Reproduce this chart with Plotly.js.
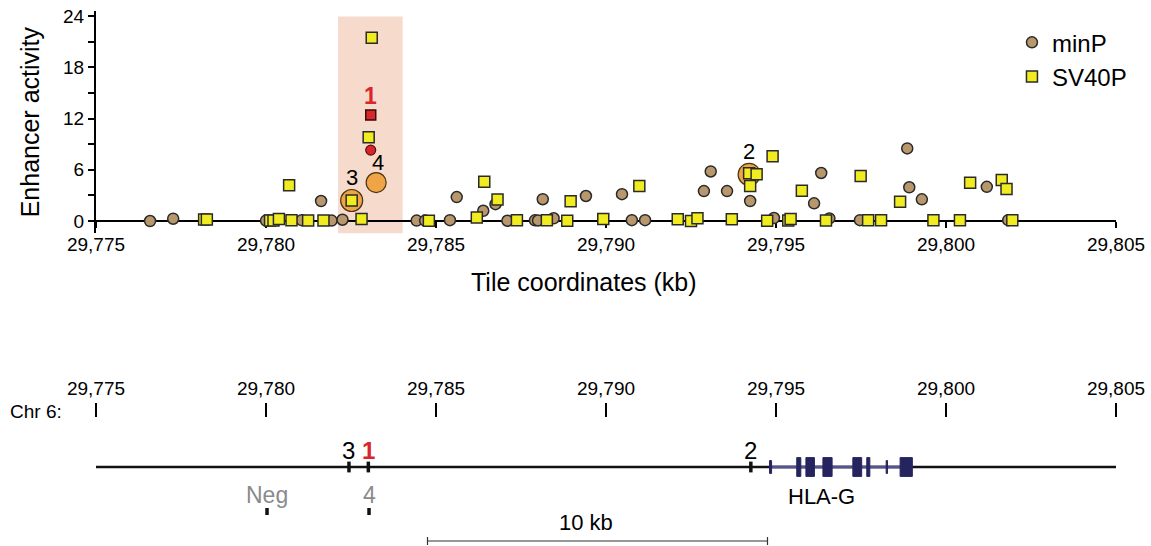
<!DOCTYPE html>
<html><head><meta charset="utf-8">
<script src="https://cdn.plot.ly/plotly-3.0.1.min.js"></script>
<style>html,body{margin:0;padding:0;background:#fff}#chart{width:1151px;height:546px}</style>
</head><body><div id="chart"></div>
<script>
// ---------- data ----------
const minPKb = [29776.59, 29777.27, 29780.0, 29781.05, 29781.93, 29782.25, 29781.62, 29784.43, 29784.68, 29785.41, 29785.61, 29786.39, 29786.75, 29787.10, 29787.91, 29788.0, 29788.46, 29788.14, 29789.41, 29790.47, 29790.76, 29791.15, 29792.88, 29793.08, 29793.56, 29794.24, 29794.94, 29796.12, 29796.33, 29796.57, 29797.47, 29798.86, 29798.92, 29799.29, 29801.2, 29801.83];
const minPAct = [0, 0.27, 0.05, 0.1, 0.05, 0.15, 2.34, 0.05, 0.05, 0.1, 2.8, 1.2, 1.97, 0.03, 0.08, 0.06, 0.32, 2.55, 2.93, 3.14, 0.1, 0.1, 3.5, 5.8, 3.5, 2.34, 0.35, 2.07, 5.62, 0.3, 0.1, 8.5, 3.95, 2.54, 4.0, 0.1];
const sv40Kb = [29778.18, 29778.26, 29780.12, 29780.22, 29780.38, 29780.75, 29781.24, 29781.69, 29782.81, 29780.68, 29782.52, 29783.11, 29783.02, 29784.79, 29786.2, 29786.42, 29786.81, 29787.38, 29788.26, 29788.86, 29788.96, 29789.92, 29790.98, 29792.11, 29792.5, 29792.69, 29793.70, 29794.21, 29794.43, 29794.24, 29794.90, 29794.74, 29795.36, 29795.43, 29795.76, 29796.47, 29797.49, 29797.71, 29798.09, 29798.65, 29799.63, 29800.41, 29800.71, 29801.64, 29801.78, 29801.95];
const sv40Act = [0.18, 0.18, 0.05, 0.05, 0.23, 0.1, 0.05, 0.05, 0.23, 4.2, 2.4, 21.46, 9.8, 0.03, 0.4, 4.6, 2.52, 0.1, 0.1, 0.03, 2.32, 0.23, 4.1, 0.2, 0, 0.32, 0.2, 5.58, 5.47, 4.1, 7.58, 0.03, 0.06, 0.23, 3.55, 0.06, 5.27, 0.1, 0.1, 2.26, 0.1, 0.1, 4.48, 4.8, 3.75, 0.1];

// enhancer 1 (red)
const hit1MinPKb = [29783.08];
const hit1MinPAct = [8.3];
const hit1SV40Kb = [29783.08];
const hit1SV40Act = [12.4];
// highlighted enhancers (orange)
const hlIds = ['3', '4', '2'];
const hlKb = [29782.52, 29783.24, 29794.21];
const hlAct = [2.4, 4.5, 5.45];

// highlighted region (kb)
const regionKb = [29782.12, 29784.02];

// axis ticks
const xTickVals = [29775, 29780, 29785, 29790, 29795, 29800, 29805];
const yTickVals = [0, 3, 6, 9, 12, 15, 18, 21, 24];
const yTickText = ['0', '', '6', '', '12', '', '18', '', '24'];

// genome track
const trackIds = ['3', '1', '2'];
const trackKb = [29782.44, 29783.01, 29794.26];
const lowerIds = ['Neg', '4'];
const lowerKb = [29780.03, 29783.03];
const geneName = 'HLA-G';
const geneSpan = [29794.84, 29799.01];
const exonStart = [29794.81, 29795.61, 29795.88, 29796.38, 29797.26, 29797.67, 29798.24, 29798.65];
const exonEnd   = [29794.87, 29795.73, 29796.13, 29796.65, 29797.52, 29797.76, 29798.28, 29799.01];
const exonKind  = ['utr', 'cds', 'cds', 'cds', 'cds', 'cds', 'utr', 'cds'];
const scaleBarKb = [29784.75, 29794.75];
const scaleBarLabel = '10 kb';

// ---------- drawing ----------
const FONT = 'Liberation Sans, Arial, Helvetica, sans-serif';
const TAN = '#B9976C', YEL = '#F1EC1F', EDGE = '#2a2a2a', ORANGE = '#EFA446', RED = '#D8262B', NAVY = '#25245E';
const H = 546, W = 1151, ML = 96, MR = 35;
const PW = W - ML - MR;
const yZeroPx = 221;

const traces = [
  {x: hlKb, y: hlAct, type: 'scatter', mode: 'markers', showlegend: false, hoverinfo: 'skip',
   marker: {symbol: 'circle', size: [22, 20, 22], color: ORANGE, opacity: 1, line: {color: '#4a3515', width: 1.2}}},
  {x: minPKb, y: minPAct, type: 'scatter', mode: 'markers', name: 'minP',
   marker: {symbol: 'circle', size: 11, color: TAN, opacity: 1, line: {color: EDGE, width: 1.5}}},
  {x: sv40Kb, y: sv40Act, type: 'scatter', mode: 'markers', name: 'SV40P',
   marker: {symbol: 'square', size: 11, color: YEL, opacity: 1, line: {color: EDGE, width: 1.5}}},
  {x: hit1MinPKb, y: hit1MinPAct, type: 'scatter', mode: 'markers', showlegend: false,
   marker: {symbol: 'circle', size: 10, color: RED, opacity: 1, line: {color: '#5a1010', width: 1.2}}},
  {x: hit1SV40Kb, y: hit1SV40Act, type: 'scatter', mode: 'markers', showlegend: false,
   marker: {symbol: 'square', size: 10, color: RED, opacity: 1, line: {color: '#3a0a0a', width: 1.5}}}
];

const shapes = [
  {type: 'rect', xref: 'x', yref: 'y', x0: regionKb[0], x1: regionKb[1], y0: -1.45, y1: 23.95,
   fillcolor: '#F6DACB', line: {width: 0}, layer: 'below'},
  {type: 'line', xref: 'x2', yref: 'y2', x0: xTickVals[0], x1: xTickVals[xTickVals.length - 1], y0: 0, y1: 0,
   line: {color: '#111', width: 2.5}}
];
trackKb.forEach(k => shapes.push({type: 'line', xref: 'x2', yref: 'y2', x0: k, x1: k, y0: -0.27, y1: 0.27, line: {color: '#111', width: 3.5}}));
lowerKb.forEach(k => shapes.push({type: 'line', xref: 'x2', yref: 'y2', x0: k, x1: k, y0: -2.05, y1: -2.4, line: {color: '#111', width: 3.5}}));
shapes.push({type: 'line', xref: 'x2', yref: 'y2', x0: geneSpan[0], x1: geneSpan[1], y0: 0, y1: 0, line: {color: '#55548c', width: 3}});
exonStart.forEach((s, i) => {
  const h = exonKind[i] === 'utr' ? 0.32 : 0.47;
  shapes.push({type: 'rect', xref: 'x2', yref: 'y2', x0: s, x1: exonEnd[i], y0: -h, y1: h, fillcolor: NAVY, line: {color: NAVY, width: 1}});
});
shapes.push({type: 'line', xref: 'x2', yref: 'y2', x0: scaleBarKb[0], x1: scaleBarKb[1], y0: -3.7, y1: -3.7, line: {color: '#333', width: 1.2}});
scaleBarKb.forEach(k => shapes.push({type: 'line', xref: 'x2', yref: 'y2', x0: k, x1: k, y0: -3.5, y1: -3.9, line: {color: '#333', width: 1.2}}));

const annotations = [];
hlIds.forEach((id, i) => annotations.push({x: hlKb[i], y: hlAct[i], xref: 'x', yref: 'y', text: id, showarrow: false,
  yshift: id === '4' ? 20 : 23, xshift: id === '4' ? 2 : 0, font: {family: FONT, size: 22, color: '#000'}}));
annotations.push({x: hit1SV40Kb[0], y: hit1SV40Act[0], xref: 'x', yref: 'y', text: '<b>1</b>', showarrow: false,
  yshift: 19, font: {family: FONT, size: 23, color: RED}});
annotations.push({x: (584 - ML) / PW, y: 1 - 282 / H, xref: 'paper', yref: 'paper', text: 'Tile coordinates (kb)', showarrow: false,
  font: {family: FONT, size: 25, color: '#000'}});
trackIds.forEach((id, i) => annotations.push({x: trackKb[i], y: 0.8, xref: 'x2', yref: 'y2',
  text: id === '1' ? '<b>1</b>' : id, showarrow: false,
  font: {family: FONT, size: 24, color: id === '1' ? RED : '#000'}}));
lowerIds.forEach((id, i) => annotations.push({x: lowerKb[i], y: -1.4, xref: 'x2', yref: 'y2', text: id, showarrow: false,
  font: {family: FONT, size: 23, color: '#8a8a8a'}}));
annotations.push({x: (geneSpan[0] + geneSpan[1]) / 2, y: -1.5, xref: 'x2', yref: 'y2', text: geneName, showarrow: false,
  xshift: -20, font: {family: FONT, size: 22, color: '#000'}});
annotations.push({x: (scaleBarKb[0] + scaleBarKb[1]) / 2, y: -2.75, xref: 'x2', yref: 'y2', text: scaleBarLabel, showarrow: false,
  xshift: -12, font: {family: FONT, size: 22, color: '#000'}});
annotations.push({x: (8 - ML) / PW, y: 1 - 424 / H, xref: 'paper', yref: 'paper', xanchor: 'left', text: 'Chr 6:', showarrow: false,
  font: {family: FONT, size: 19, color: '#000'}});

const layout = {
  width: W, height: H,
  margin: {l: ML, r: MR, t: 0, b: 0},
  paper_bgcolor: '#fff', plot_bgcolor: 'rgba(0,0,0,0)',
  font: {family: FONT, color: '#000'},
  showlegend: true,
  legend: {x: 0.898, y: 0.963, xanchor: 'left', yanchor: 'top', bgcolor: 'rgba(0,0,0,0)',
    font: {family: FONT, size: 24, color: '#000'}, itemwidth: 30, tracegroupgap: 0},
  xaxis: {range: [xTickVals[0], xTickVals[xTickVals.length - 1]], domain: [0, 1], anchor: 'free', position: 1 - yZeroPx / H,
    tickvals: xTickVals, tickformat: ',d', ticks: 'outside', ticklen: 6, tickwidth: 2, tickcolor: '#000',
    showline: true, linecolor: '#000', linewidth: 2, showgrid: false, zeroline: false, layer: 'below traces',
    tickfont: {family: FONT, size: 19}, automargin: false},
  yaxis: {range: [-1.45, 24.6], domain: [1 - 233.4 / H, 1 - 10.9 / H], anchor: 'x',
    tickvals: yTickVals, ticktext: yTickText, ticks: 'outside', ticklen: 6, tickwidth: 2, tickcolor: '#000',
    showline: true, linecolor: '#000', linewidth: 2, showgrid: false, zeroline: false, layer: 'below traces',
    tickfont: {family: FONT, size: 19}, automargin: false,
    title: {text: 'Enhancer activity', font: {family: FONT, size: 25}, standoff: 16}},
  xaxis2: {range: [xTickVals[0], xTickVals[xTickVals.length - 1]], domain: [0, 1], anchor: 'y2', side: 'top',
    tickvals: xTickVals, tickformat: ',d', ticks: 'outside', ticklen: 14, tickwidth: 2, tickcolor: '#000',
    showline: false, showgrid: false, zeroline: false, tickfont: {family: FONT, size: 19}, automargin: false},
  yaxis2: {range: [-3.95, 2.45], domain: [0, 1 - 418 / H], anchor: 'x2', visible: false, showgrid: false, zeroline: false},
  shapes: shapes,
  annotations: annotations
};

Plotly.newPlot('chart', traces, layout, {displayModeBar: false, staticPlot: true});
</script></body></html>
